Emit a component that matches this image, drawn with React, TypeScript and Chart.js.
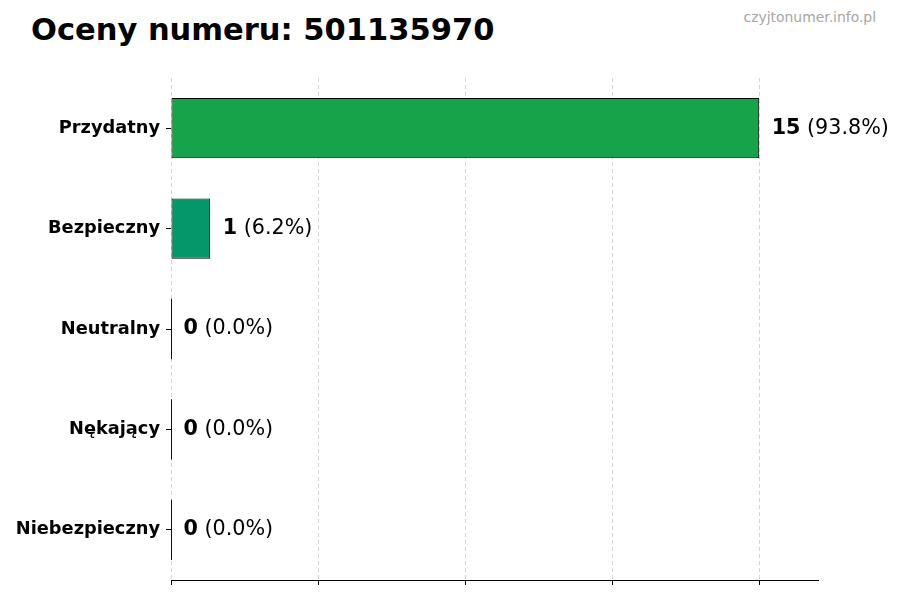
import { useEffect, useRef } from "react"
import { Chart, registerables } from "chart.js"
import type { Plugin } from "chart.js"

Chart.register(...registerables)

const categories = ["Przydatny", "Bezpieczny", "Neutralny", "Nękający", "Niebezpieczny"]
const counts = [15, 1, 0, 0, 0]
const percentLabels = ["93.8%", "6.2%", "0.0%", "0.0%", "0.0%"]
const barColors = ["#17a34a", "#059669", "#6b7280", "#dc6b1f", "#dc2626"]
const xGridValues = [0, 3.75, 7.5, 11.25, 15]
const xMax = 16.5

const FONT = "'DejaVu Sans', Verdana, sans-serif"

// etykiety wartości + kreska dla słupków o wartości 0
const valueLabels: Plugin<"bar"> = {
  id: "valueLabels",
  afterDatasetsDraw(chart) {
    const ctx = chart.ctx
    const meta = chart.getDatasetMeta(0)
    ctx.save()
    meta.data.forEach((el: any, i) => {
      const { x, y, base, height } = el.getProps(["x", "y", "base", "height"], true)
      if (counts[i] === 0) {
        ctx.strokeStyle = "#111"
        ctx.lineWidth = 1
        ctx.beginPath()
        ctx.moveTo(Math.round(base) + 0.5, y - height / 2)
        ctx.lineTo(Math.round(base) + 0.5, y + height / 2)
        ctx.stroke()
      }
      const startX = x + 12.5
      ctx.textBaseline = "middle"
      ctx.fillStyle = "#000"
      ctx.font = `bold 20.7px ${FONT}`
      const num = String(counts[i])
      ctx.fillText(num, startX, y)
      const w = ctx.measureText(num).width
      ctx.font = `20.7px ${FONT}`
      ctx.fillText(` (${percentLabels[i]})`, startX + w, y)
    })
    ctx.restore()
  },
}

export default function App() {
  const chartRef = useRef<HTMLCanvasElement | null>(null)
  const chartInstance = useRef<Chart | null>(null)

  useEffect(() => {
    if (!chartRef.current) return
    if (chartInstance.current) chartInstance.current.destroy()

    const ctx = chartRef.current.getContext("2d")
    if (!ctx) return

    chartInstance.current = new Chart(ctx, {
      type: "bar",
      data: {
        labels: categories,
        datasets: [
          {
            data: counts,
            backgroundColor: barColors,
            borderColor: "#000",
            borderWidth: 1,
            borderSkipped: false,
            categoryPercentage: 1,
            barPercentage: 0.6,
          },
        ],
      },
      options: {
        indexAxis: "y",
        animation: false,
        responsive: true,
        maintainAspectRatio: false,
        layout: { padding: { top: 78, right: 82, left: 0, bottom: 0 } },
        plugins: {
          legend: { display: false },
          tooltip: { enabled: false },
          title: { display: false },
        },
        scales: {
          x: {
            min: 0,
            max: xMax,
            z: 1,
            afterBuildTicks: (scale) => {
              scale.ticks = xGridValues.map((v) => ({ value: v }))
            },
            afterFit: (scale) => {
              scale.height = 20
            },
            ticks: { display: false },
            grid: {
              color: "rgba(170,170,170,0.5)",
              lineWidth: 1,
              drawTicks: true,
              tickLength: 5,
              tickColor: "#000",
              tickBorderDash: [],
            },
            border: { display: true, color: "#000", width: 1, dash: [4, 3] },
          },
          y: {
            afterFit: (scale) => {
              scale.width = 171
            },
            ticks: {
              color: "#000",
              padding: 6,
              font: { family: FONT, size: 17.8, weight: "bold" },
            },
            grid: {
              offset: false,
              drawOnChartArea: false,
              drawTicks: true,
              tickLength: 5,
              tickColor: "#000",
            },
            border: { display: false },
          },
        },
      },
      plugins: [valueLabels],
    })

    return () => {
      if (chartInstance.current) {
        chartInstance.current.destroy()
        chartInstance.current = null
      }
    }
  }, [])

  return (
    <div style={{ position: "fixed", left: 0, top: 0, width: 900, height: 600, background: "#fff", fontFamily: FONT }}>
      <div
        style={{
          position: "absolute",
          left: 31,
          top: 15,
          fontSize: 30.5,
          lineHeight: "30px",
          fontWeight: "bold",
          color: "#000",
          whiteSpace: "nowrap",
        }}
      >
        Oceny numeru: 501135970
      </div>
      <div
        style={{
          position: "absolute",
          right: 24,
          top: 10,
          fontSize: 13.9,
          lineHeight: "14px",
          color: "#a6a6a6",
          whiteSpace: "nowrap",
        }}
      >
        czyjtonumer.info.pl
      </div>
      <div style={{ position: "absolute", left: 0, top: 0, width: 900, height: 600 }}>
        <canvas ref={chartRef}></canvas>
      </div>
    </div>
  )
}
